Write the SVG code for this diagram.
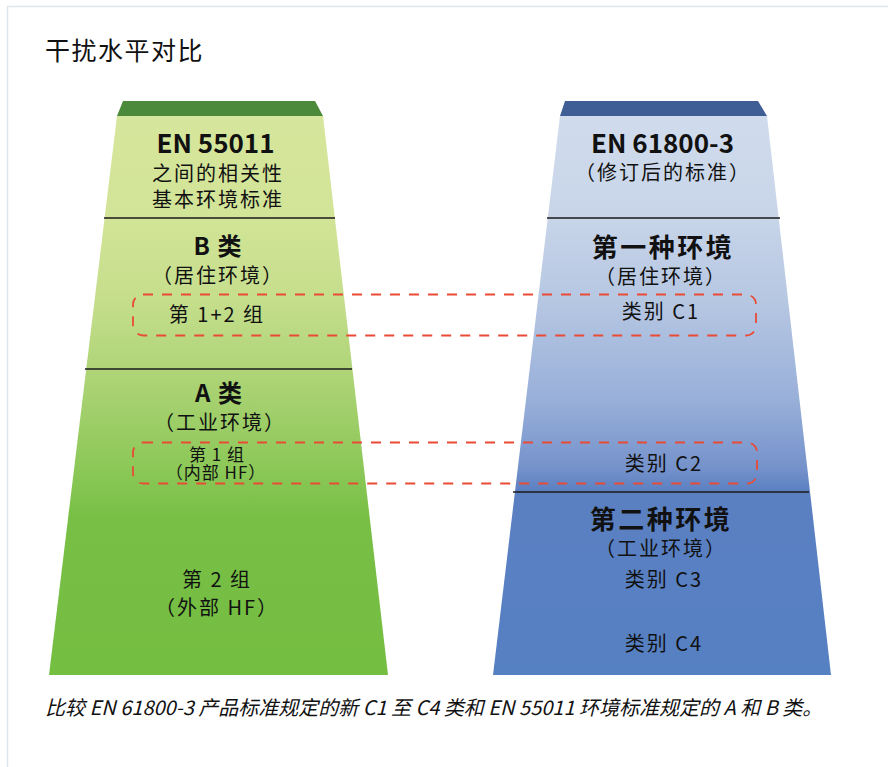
<svg xmlns="http://www.w3.org/2000/svg" width="888" height="767" viewBox="0 0 888 767">
<defs>
<linearGradient id="gL" x1="0" y1="116" x2="0" y2="675" gradientUnits="userSpaceOnUse">
<stop offset="0" stop-color="#d6e69c"/>
<stop offset="0.18" stop-color="#d2e497"/>
<stop offset="0.33" stop-color="#c5de8c"/>
<stop offset="0.5" stop-color="#a7d170"/>
<stop offset="0.63" stop-color="#8cc858"/>
<stop offset="0.72" stop-color="#77bf45"/>
<stop offset="1" stop-color="#74be42"/>
</linearGradient>
<linearGradient id="gR" x1="0" y1="116" x2="0" y2="675" gradientUnits="userSpaceOnUse">
<stop offset="0" stop-color="#d0dcec"/>
<stop offset="0.18" stop-color="#c8d5e9"/>
<stop offset="0.33" stop-color="#b6c7e2"/>
<stop offset="0.51" stop-color="#98afd9"/>
<stop offset="0.63" stop-color="#7592cb"/>
<stop offset="0.67" stop-color="#5b80c2"/>
<stop offset="1" stop-color="#5580c2"/>
</linearGradient>
</defs>
<style>
text{font-family:"Noto Sans CJK SC","Noto Sans",sans-serif;fill:#111;text-anchor:middle}
.t{font-size:20px;letter-spacing:2px}
.s{font-size:17px;letter-spacing:1px}
.b{font-weight:bold}
.sep{stroke:#1a1a1a;stroke-width:1.6}
.dash{fill:none;stroke:#e94b35;stroke-width:1.8;stroke-dasharray:10 9}
</style>
<path d="M7.5,767 V6.5 H888" fill="none" stroke="#dde5ec" stroke-width="1.5"/>
<text x="45" y="60" style="font-size:25px;letter-spacing:1.5px;text-anchor:start">干扰水平对比</text>

<g id="left">
<polygon points="123,101 315,101 323,116 117,116" fill="#4b8a3b"/>
<polygon points="117,116 323,116 388,675 49,675" fill="url(#gL)"/>
<line class="sep" x1="104" y1="218" x2="335" y2="218"/>
<line class="sep" x1="85" y1="369" x2="352" y2="369"/>
<text class="b" x="215.5" y="153" style="font-size:26px">EN 55011</text>
<text class="t" x="218" y="180.5">之间的相关性</text>
<text class="t" x="218" y="206.5">基本环境标准</text>
<text class="b" x="218" y="255" style="font-size:24px;letter-spacing:1px">B 类</text>
<text class="t" x="218" y="283">（居住环境）</text>
<text class="t" x="217" y="321.5">第 1+2 组</text>
<text class="b" x="219" y="402" style="font-size:24px;letter-spacing:1px">A 类</text>
<text class="t" x="220" y="429.5">（工业环境）</text>
<text class="s" x="217" y="460.5">第 1 组</text>
<text class="s" x="216" y="478.5">（内部 HF）</text>
<text class="t" x="217" y="586.5">第 2 组</text>
<text class="t" x="217" y="615">（外部 HF）</text>
</g>

<g id="right">
<polygon points="565,101 758,101 767,116 560,116" fill="#3f5e96"/>
<polygon points="560,116 767,116 831,675 493,675" fill="url(#gR)"/>
<line class="sep" x1="547" y1="218" x2="780" y2="218"/>
<line class="sep" x1="513" y1="492" x2="809" y2="492"/>
<text class="b" x="662.5" y="153" style="font-size:26px">EN 61800-3</text>
<text class="t" x="663" y="179.5">（修订后的标准）</text>
<text class="b" x="663" y="256.5" style="font-size:26px;letter-spacing:2.5px">第一种环境</text>
<text class="t" x="661" y="283.5">（居住环境）</text>
<text class="t" x="661" y="318.5">类别 C1</text>
<text class="t" x="664" y="470.5">类别 C2</text>
<text class="b" x="661" y="528.5" style="font-size:26px;letter-spacing:2.5px">第二种环境</text>
<text class="t" x="661" y="555.5">（工业环境）</text>
<text class="t" x="664" y="586.5">类别 C3</text>
<text class="t" x="664" y="650.5">类别 C4</text>
</g>

<g id="connectors">
<rect class="dash" x="133" y="294.5" width="623" height="41" rx="10"/>
<rect class="dash" x="133" y="442.5" width="624" height="41" rx="10"/>
</g>

<text x="45" y="715" style="font-size:20px;font-style:italic;text-anchor:start">比较 EN 61800-3 产品标准规定的新 C1 至 C4 类和 EN 55011 环境标准规定的 A 和 B 类。</text>
</svg>
